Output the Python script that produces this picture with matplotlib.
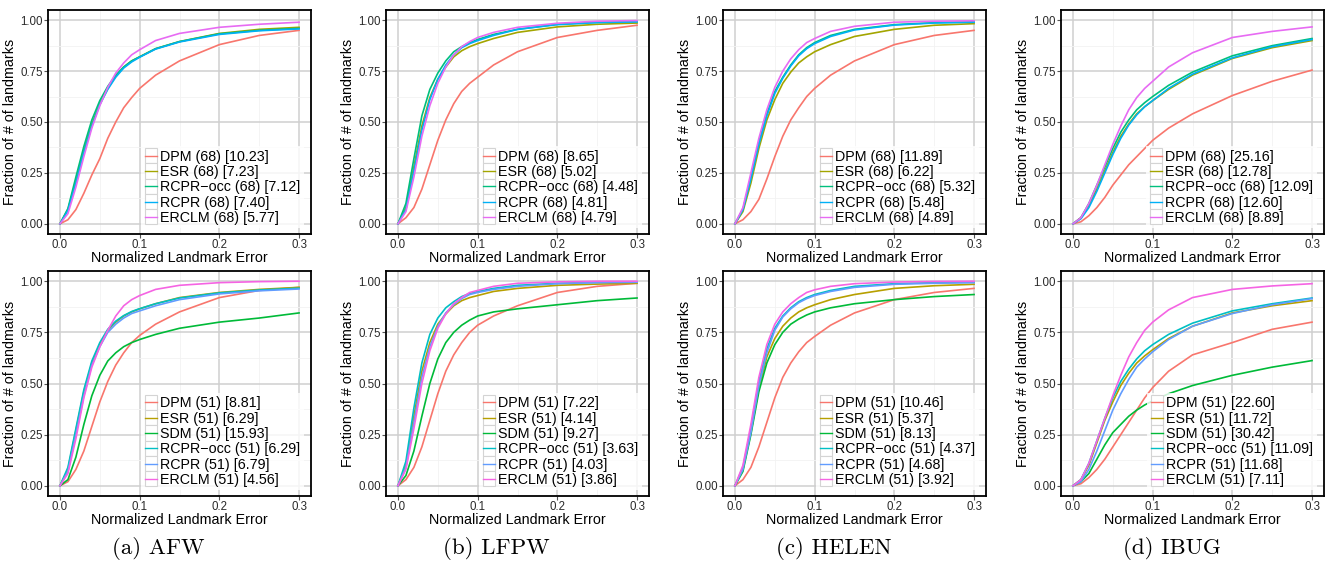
import matplotlib
matplotlib.use("Agg")
import matplotlib.pyplot as plt
from matplotlib.lines import Line2D
from matplotlib.patches import Rectangle
from matplotlib.legend_handler import HandlerBase

plt.rcParams['font.family'] = ['Liberation Sans', 'DejaVu Sans']

# error thresholds (x) shared by every curve
X = [0, 0.01, 0.02, 0.03, 0.04, 0.05, 0.06, 0.07, 0.08, 0.09, 0.10, 0.12, 0.15, 0.20, 0.25, 0.30]

# ---- 68 landmark curves ----
AFW68 = {
    'DPM':      [0, 0.02, 0.07, 0.15, 0.24, 0.32, 0.42, 0.50, 0.57, 0.62, 0.665, 0.73, 0.80, 0.88, 0.925, 0.95],
    'ESR':      [0, 0.07, 0.21, 0.36, 0.49, 0.59, 0.665, 0.725, 0.77, 0.80, 0.82, 0.86, 0.895, 0.935, 0.955, 0.965],
    'RCPR-occ': [0, 0.075, 0.23, 0.38, 0.51, 0.605, 0.675, 0.73, 0.77, 0.80, 0.82, 0.86, 0.895, 0.933, 0.95, 0.96],
    'RCPR':     [0, 0.065, 0.20, 0.35, 0.48, 0.585, 0.66, 0.72, 0.765, 0.795, 0.818, 0.858, 0.893, 0.93, 0.948, 0.957],
    'ERCLM':    [0, 0.05, 0.18, 0.33, 0.47, 0.58, 0.67, 0.74, 0.79, 0.83, 0.855, 0.90, 0.935, 0.965, 0.98, 0.99],
}
LFPW68 = {
    'DPM':      [0, 0.03, 0.08, 0.17, 0.29, 0.41, 0.51, 0.59, 0.65, 0.69, 0.72, 0.78, 0.845, 0.915, 0.95, 0.975],
    'ESR':      [0, 0.08, 0.28, 0.48, 0.62, 0.71, 0.77, 0.82, 0.85, 0.87, 0.885, 0.91, 0.94, 0.967, 0.98, 0.986],
    'RCPR-occ': [0, 0.10, 0.32, 0.53, 0.66, 0.74, 0.80, 0.845, 0.87, 0.89, 0.905, 0.93, 0.955, 0.98, 0.99, 0.993],
    'RCPR':     [0, 0.07, 0.26, 0.46, 0.61, 0.71, 0.78, 0.83, 0.865, 0.885, 0.90, 0.925, 0.955, 0.978, 0.988, 0.992],
    'ERCLM':    [0, 0.06, 0.23, 0.43, 0.58, 0.69, 0.77, 0.83, 0.87, 0.895, 0.915, 0.94, 0.965, 0.985, 0.995, 0.998],
}
HELEN68 = {
    'DPM':      [0, 0.02, 0.06, 0.12, 0.22, 0.33, 0.43, 0.51, 0.57, 0.625, 0.665, 0.73, 0.80, 0.88, 0.925, 0.95],
    'ESR':      [0, 0.06, 0.20, 0.37, 0.51, 0.61, 0.69, 0.745, 0.79, 0.82, 0.845, 0.88, 0.92, 0.955, 0.975, 0.983],
    'RCPR-occ': [0, 0.07, 0.23, 0.40, 0.54, 0.65, 0.72, 0.78, 0.83, 0.865, 0.89, 0.925, 0.955, 0.978, 0.988, 0.992],
    'RCPR':     [0, 0.07, 0.22, 0.39, 0.53, 0.64, 0.715, 0.775, 0.825, 0.86, 0.885, 0.92, 0.952, 0.976, 0.986, 0.99],
    'ERCLM':    [0, 0.08, 0.25, 0.42, 0.56, 0.67, 0.75, 0.81, 0.855, 0.89, 0.91, 0.945, 0.97, 0.99, 0.995, 0.997],
}
IBUG68 = {
    'DPM':      [0, 0.01, 0.04, 0.08, 0.13, 0.19, 0.24, 0.29, 0.33, 0.37, 0.41, 0.47, 0.54, 0.63, 0.70, 0.755],
    'ESR':      [0, 0.03, 0.09, 0.17, 0.26, 0.35, 0.43, 0.49, 0.54, 0.575, 0.605, 0.66, 0.73, 0.812, 0.865, 0.90],
    'RCPR-occ': [0, 0.03, 0.10, 0.19, 0.28, 0.37, 0.45, 0.51, 0.56, 0.595, 0.625, 0.68, 0.745, 0.825, 0.875, 0.91],
    'RCPR':     [0, 0.025, 0.08, 0.16, 0.25, 0.34, 0.42, 0.485, 0.535, 0.575, 0.605, 0.665, 0.735, 0.815, 0.87, 0.905],
    'ERCLM':    [0, 0.03, 0.10, 0.19, 0.29, 0.39, 0.48, 0.56, 0.62, 0.665, 0.70, 0.77, 0.84, 0.915, 0.945, 0.967],
}

# ---- 51 landmark curves ----
AFW51 = {
    'DPM':      [0, 0.02, 0.08, 0.17, 0.29, 0.41, 0.51, 0.59, 0.65, 0.70, 0.735, 0.79, 0.85, 0.92, 0.955, 0.97],
    'ESR':      [0, 0.08, 0.27, 0.46, 0.60, 0.69, 0.76, 0.80, 0.83, 0.85, 0.865, 0.89, 0.92, 0.945, 0.96, 0.97],
    'SDM':      [0, 0.03, 0.14, 0.30, 0.44, 0.54, 0.61, 0.65, 0.68, 0.70, 0.715, 0.74, 0.77, 0.80, 0.82, 0.845],
    'RCPR-occ': [0, 0.09, 0.28, 0.47, 0.61, 0.70, 0.765, 0.805, 0.832, 0.852, 0.866, 0.89, 0.918, 0.943, 0.957, 0.966],
    'RCPR':     [0, 0.07, 0.25, 0.44, 0.59, 0.68, 0.75, 0.79, 0.82, 0.842, 0.855, 0.88, 0.91, 0.938, 0.953, 0.962],
    'ERCLM':    [0, 0.06, 0.23, 0.43, 0.58, 0.68, 0.76, 0.83, 0.88, 0.91, 0.93, 0.96, 0.98, 0.993, 0.998, 1.0],
}
LFPW51 = {
    'DPM':      [0, 0.03, 0.09, 0.19, 0.32, 0.45, 0.56, 0.64, 0.70, 0.75, 0.785, 0.83, 0.88, 0.945, 0.975, 0.99],
    'ESR':      [0, 0.10, 0.34, 0.56, 0.70, 0.79, 0.84, 0.88, 0.905, 0.92, 0.93, 0.95, 0.965, 0.98, 0.986, 0.99],
    'SDM':      [0, 0.05, 0.17, 0.34, 0.50, 0.62, 0.70, 0.75, 0.785, 0.81, 0.83, 0.85, 0.865, 0.885, 0.905, 0.918],
    'RCPR-occ': [0, 0.12, 0.38, 0.60, 0.74, 0.82, 0.87, 0.90, 0.925, 0.94, 0.95, 0.965, 0.98, 0.99, 0.995, 0.997],
    'RCPR':     [0, 0.09, 0.31, 0.53, 0.68, 0.78, 0.845, 0.885, 0.915, 0.935, 0.945, 0.96, 0.975, 0.988, 0.993, 0.995],
    'ERCLM':    [0, 0.08, 0.28, 0.50, 0.66, 0.77, 0.84, 0.89, 0.92, 0.945, 0.955, 0.975, 0.99, 0.997, 1.0, 1.0],
}
HELEN51 = {
    'DPM':      [0, 0.03, 0.09, 0.19, 0.31, 0.43, 0.53, 0.60, 0.655, 0.70, 0.73, 0.785, 0.845, 0.91, 0.945, 0.965],
    'ESR':      [0, 0.08, 0.26, 0.48, 0.63, 0.72, 0.78, 0.82, 0.85, 0.87, 0.885, 0.91, 0.935, 0.965, 0.978, 0.985],
    'SDM':      [0, 0.07, 0.25, 0.46, 0.60, 0.69, 0.75, 0.79, 0.815, 0.835, 0.85, 0.87, 0.89, 0.91, 0.925, 0.935],
    'RCPR-occ': [0, 0.09, 0.28, 0.51, 0.67, 0.77, 0.83, 0.87, 0.90, 0.92, 0.935, 0.955, 0.975, 0.988, 0.993, 0.995],
    'RCPR':     [0, 0.08, 0.26, 0.49, 0.65, 0.76, 0.825, 0.865, 0.895, 0.915, 0.93, 0.95, 0.97, 0.985, 0.99, 0.993],
    'ERCLM':    [0, 0.10, 0.30, 0.53, 0.69, 0.79, 0.85, 0.89, 0.92, 0.945, 0.958, 0.975, 0.988, 0.996, 0.999, 1.0],
}
IBUG51 = {
    'DPM':      [0, 0.01, 0.04, 0.08, 0.13, 0.19, 0.25, 0.31, 0.37, 0.43, 0.48, 0.56, 0.64, 0.70, 0.765, 0.80],
    'ESR':      [0, 0.03, 0.10, 0.21, 0.32, 0.41, 0.49, 0.55, 0.60, 0.635, 0.665, 0.72, 0.78, 0.845, 0.88, 0.905],
    'SDM':      [0, 0.02, 0.06, 0.13, 0.20, 0.26, 0.30, 0.34, 0.37, 0.395, 0.415, 0.45, 0.49, 0.54, 0.58, 0.612],
    'RCPR-occ': [0, 0.03, 0.11, 0.22, 0.33, 0.43, 0.51, 0.57, 0.62, 0.66, 0.69, 0.74, 0.795, 0.855, 0.89, 0.918],
    'RCPR':     [0, 0.02, 0.08, 0.17, 0.27, 0.37, 0.45, 0.52, 0.58, 0.62, 0.655, 0.715, 0.78, 0.842, 0.885, 0.915],
    'ERCLM':    [0, 0.03, 0.11, 0.22, 0.33, 0.44, 0.54, 0.63, 0.70, 0.76, 0.80, 0.86, 0.92, 0.96, 0.977, 0.988],
}

# mean errors shown in the legends
ERR68 = {
    'AFW':   [10.23, 7.23, 7.12, 7.40, 5.77],
    'LFPW':  [8.65, 5.02, 4.48, 4.81, 4.79],
    'HELEN': [11.89, 6.22, 5.32, 5.48, 4.89],
    'IBUG':  [25.16, 12.78, 12.09, 12.60, 8.89],
}
ERR51 = {
    'AFW':   [8.81, 6.29, 15.93, 6.29, 6.79, 4.56],
    'LFPW':  [7.22, 4.14, 9.27, 3.63, 4.03, 3.86],
    'HELEN': [10.46, 5.37, 8.13, 4.37, 4.68, 3.92],
    'IBUG':  [22.60, 11.72, 30.42, 11.09, 11.68, 7.11],
}
DATASETS = ['AFW', 'LFPW', 'HELEN', 'IBUG']
CAPTIONS = ['(a) AFW', '(b) LFPW', '(c) HELEN', '(d) IBUG']
TOP = [AFW68, LFPW68, HELEN68, IBUG68]
BOTTOM = [AFW51, LFPW51, HELEN51, IBUG51]

# ggplot hue palettes
COL5 = ['#F8766D', '#A3A500', '#00BF7D', '#00B0F6', '#E76BF3']
COL6 = ['#F8766D', '#B79F00', '#00BA38', '#00BFC4', '#619CFF', '#F564E3']

LEG_FS = 10.3
ROW_PT = 11.0  # legend row pitch in points


class KeyBox(HandlerBase):
    # ggplot style legend key: grey framed box with the line through it
    def create_artists(self, legend, orig_handle, xdescent, ydescent,
                       width, height, fontsize, trans):
        yc = height / 2 - ydescent
        box = Rectangle((-xdescent, yc - ROW_PT / 2), width, ROW_PT,
                        facecolor='white', edgecolor='#D4D4D4', lw=0.8,
                        transform=trans)
        line = Line2D([-xdescent, width - xdescent], [yc, yc],
                      color=orig_handle.get_color(), lw=1.0, transform=trans)
        return [box, line]


W, H = 1335, 569
fig = plt.figure(figsize=(W / 100, H / 100), dpi=100)

lefts = [48, 386, 723, 1061]
rows = [(10, 234), (271, 496)]
axw = 263


def panel(ax, data, colors, npts, errs):
    names = list(data.keys())
    for name, c, e in zip(names, colors, errs):
        lab = '%s (%d) [%.2f]' % (name.replace('-', '\u2212'), npts, e)
        ax.plot(X, data[name], color=c, lw=1.2, label=lab)
    ax.set_xlim(-0.015, 0.315)
    ax.set_ylim(-0.05, 1.05)
    ax.set_xticks([0, 0.1, 0.2, 0.3])
    ax.set_xticklabels(['0.0', '0.1', '0.2', '0.3'])
    ax.set_yticks([0, 0.25, 0.5, 0.75, 1.0])
    ax.set_yticklabels(['0.00', '0.25', '0.50', '0.75', '1.00'])
    ax.set_xticks([0.05, 0.15, 0.25], minor=True)
    ax.set_yticks([0.125, 0.375, 0.625, 0.875], minor=True)
    ax.grid(True, which='major', color='#CFCFCF', lw=1.1)
    ax.grid(True, which='minor', color='#F2F2F2', lw=0.6)
    ax.set_axisbelow(True)
    ax.tick_params(which='major', length=3, width=0.8, color='#555555',
                   labelsize=8.3, labelcolor='#2A2A2A', pad=0.8)
    ax.tick_params(which='minor', length=0)
    for s in ax.spines.values():
        s.set_linewidth(1.3)
        s.set_color('black')
    ax.set_xlabel('Normalized Landmark Error', fontsize=10.3, labelpad=0)
    ax.set_ylabel('Fraction of # of landmarks', fontsize=10.3, labelpad=2)
    leg = ax.legend(loc='lower right', bbox_to_anchor=(0.972, 0.025),
                    fontsize=LEG_FS, frameon=True, fancybox=False,
                    handler_map={Line2D: KeyBox()},
                    handlelength=0.85, handleheight=0.8, handletextpad=0.2,
                    labelspacing=0.09, borderpad=0.25, borderaxespad=0)
    leg.get_frame().set_facecolor('white')
    leg.get_frame().set_edgecolor('none')


for i, ds in enumerate(DATASETS):
    for r, (t, b) in enumerate(rows):
        ax = fig.add_axes([lefts[i] / W, 1 - b / H, axw / W, (b - t) / H])
        if r == 0:
            panel(ax, TOP[i], COL5, 68, ERR68[ds])
        else:
            panel(ax, BOTTOM[i], COL6, 51, ERR51[ds])
    cx = (lefts[i] - 42 + lefts[i] + axw) / 2
    fig.text(cx / W, 1 - 549 / H, CAPTIONS[i], family='cmr10', fontsize=16.5,
             ha='center', va='center')

fig.savefig('out.png', dpi=100)
